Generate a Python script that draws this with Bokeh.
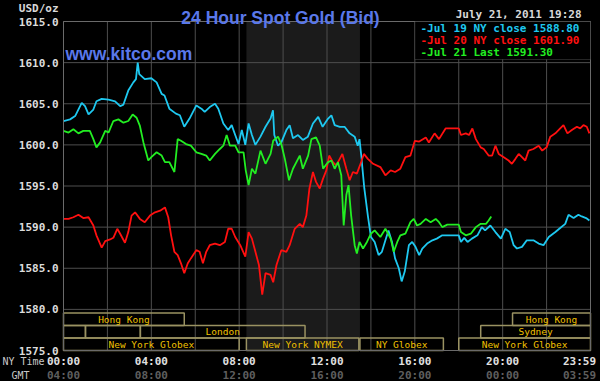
from bokeh.plotting import figure
from bokeh.models import Range1d, Label, BoxAnnotation, ColumnDataSource
from bokeh.core.properties import value
from bokeh.embed import file_html
from bokeh.resources import INLINE

# ---------------- data ----------------
jul19_h = [0.0, 0.3, 0.53, 0.83, 0.98, 1.14, 1.36, 1.5, 1.74, 2.05, 2.35, 2.58, 2.73, 2.95, 3.18, 3.3, 3.38,
           3.45, 3.7, 4.0, 4.24, 4.47, 4.6, 4.82, 5.12, 5.3, 5.5, 5.74, 6.05, 6.28, 6.43, 6.66, 6.9, 7.05,
           7.28, 7.5, 7.66, 7.82, 7.97, 8.12, 8.28, 8.43, 8.58, 8.74, 8.97, 9.2, 9.43, 9.54, 9.6, 9.77,
           9.92, 10.15, 10.3, 10.45, 10.68, 10.9, 11.13, 11.36, 11.6, 11.8, 12.05, 12.2, 12.35, 12.58,
           12.8, 13.03, 13.26, 13.4, 13.48, 13.56, 13.7, 13.86, 14.0, 14.17, 14.35, 14.5, 14.66, 14.8,
           14.96, 15.1, 15.27, 15.4, 15.54, 15.73, 15.88, 16.03, 16.2, 16.34, 16.56, 16.8, 17.0, 17.25,
           17.5, 18.0, 18.1, 18.25, 18.4, 18.6, 18.85, 19.05, 19.2, 19.44, 19.67, 19.92, 20.12, 20.32,
           20.5, 20.65, 20.88, 21.1, 21.4, 21.64, 21.86, 22.1, 22.4, 22.62, 22.85, 23.0, 23.23, 23.45,
           23.6, 23.8, 23.95]
jul19_p = [1602.9, 1603.1, 1603.5, 1605.1, 1604.7, 1603.7, 1604.3, 1605.3, 1605.6, 1605.5, 1605.3, 1604.7,
           1604.9, 1606.6, 1607.6, 1608.0, 1610.0, 1608.6, 1608.0, 1608.1, 1607.6, 1606.2, 1606.0, 1604.4,
           1603.8, 1603.6, 1602.2, 1603.2, 1604.8, 1604.4, 1604.0, 1604.6, 1605.0, 1604.4, 1602.6, 1601.8,
           1602.4, 1601.2, 1600.1, 1601.8, 1600.0, 1602.6, 1601.2, 1600.0, 1601.0, 1602.2, 1603.2, 1604.2,
           1601.2, 1599.9, 1600.3, 1601.8, 1602.4, 1600.8, 1601.2, 1600.6, 1601.0, 1602.6, 1603.4, 1602.2,
           1603.2, 1603.6, 1602.4, 1602.2, 1602.2, 1601.4, 1601.0, 1599.9, 1600.7, 1598.7, 1594.7, 1591.4,
           1588.8, 1588.2, 1586.6, 1587.0, 1588.4, 1589.6, 1588.2, 1586.2, 1585.0, 1583.4, 1584.6, 1587.8,
           1588.2, 1587.6, 1586.6, 1587.4, 1588.0, 1588.4, 1588.6, 1589.0, 1589.0, 1589.0, 1588.2, 1588.7,
           1588.2, 1588.6, 1589.0, 1590.0, 1589.6, 1590.2, 1589.4, 1588.6, 1589.8, 1589.4, 1587.8, 1587.4,
           1587.6, 1588.4, 1588.4, 1588.0, 1587.8, 1588.8, 1589.4, 1589.9, 1590.4, 1591.5, 1591.1, 1591.5,
           1591.3, 1591.1, 1590.8]

jul20_h = [0.0, 0.23, 0.45, 0.68, 0.9, 1.14, 1.36, 1.5, 1.74, 1.9, 2.12, 2.27, 2.45, 2.58, 2.8, 2.95, 3.1,
           3.26, 3.48, 3.7, 3.94, 4.17, 4.4, 4.62, 4.77, 4.9, 5.05, 5.2, 5.35, 5.5, 5.66, 5.8, 6.05, 6.2,
           6.35, 6.5, 6.66, 6.9, 7.12, 7.35, 7.5, 7.66, 7.82, 8.05, 8.28, 8.43, 8.58, 8.74, 8.9, 9.05,
           9.2, 9.43, 9.55, 9.7, 9.92, 10.15, 10.3, 10.53, 10.76, 10.9, 11.06, 11.2, 11.36, 11.5, 11.67,
           11.82, 11.97, 12.1, 12.27, 12.42, 12.58, 12.7, 12.88, 13.03, 13.18, 13.36, 13.5, 13.68, 13.86,
           14.1, 14.43, 14.66, 14.9, 15.1, 15.34, 15.57, 15.8, 16.0, 16.2, 16.5, 16.64, 16.9, 17.1, 17.4,
           18.0, 18.1, 18.32, 18.47, 18.62, 18.78, 19.0, 19.14, 19.36, 19.52, 19.67, 19.82, 20.05, 20.27,
           20.42, 20.58, 20.73, 20.88, 21.03, 21.18, 21.4, 21.64, 21.8, 22.0, 22.17, 22.4, 22.62, 22.77,
           22.95, 23.15, 23.38, 23.53, 23.68, 23.83, 23.95]
jul20_p = [1591.0, 1591.0, 1591.2, 1591.5, 1591.1, 1591.2, 1590.2, 1589.0, 1587.5, 1588.3, 1588.5, 1588.7,
           1589.8, 1589.2, 1588.1, 1589.4, 1591.4, 1591.8, 1591.0, 1590.6, 1591.4, 1591.8, 1592.0, 1592.4,
           1591.2, 1589.0, 1587.0, 1586.6, 1585.6, 1584.4, 1585.6, 1586.2, 1587.2, 1587.0, 1585.6, 1587.0,
           1587.8, 1588.0, 1587.8, 1588.2, 1589.8, 1589.8, 1588.8, 1587.8, 1586.4, 1589.4, 1588.6, 1587.0,
           1585.4, 1581.8, 1584.4, 1584.2, 1583.3, 1585.4, 1587.2, 1587.0, 1587.8, 1589.8, 1590.4, 1590.0,
           1591.4, 1594.7, 1596.7, 1595.5, 1594.7, 1595.9, 1596.9, 1598.7, 1597.9, 1597.5, 1598.3, 1598.9,
           1597.1, 1595.7, 1596.7, 1596.5, 1597.5, 1598.9, 1598.3, 1597.7, 1597.3, 1596.3, 1596.9, 1596.7,
           1597.1, 1598.5, 1598.7, 1600.5, 1600.4, 1600.9, 1600.3, 1601.4, 1600.7, 1602.0, 1602.0, 1601.2,
           1601.4, 1601.2, 1602.0, 1600.7, 1599.7, 1599.5, 1598.7, 1598.7, 1599.9, 1598.9, 1598.5, 1598.1,
           1597.7, 1598.3, 1598.9, 1598.5, 1598.1, 1599.3, 1599.5, 1599.9, 1599.3, 1599.7, 1601.0, 1601.4,
           1602.0, 1602.4, 1601.4, 1601.8, 1602.2, 1602.0, 1602.4, 1602.2, 1601.4]

jul21_h = [0.0, 0.23, 0.45, 0.68, 0.9, 1.2, 1.36, 1.5, 1.67, 1.9, 2.05, 2.27, 2.5, 2.73, 2.95, 3.15, 3.33,
           3.48, 3.64, 3.86, 4.0, 4.24, 4.47, 4.62, 4.82, 5.05, 5.2, 5.35, 5.58, 5.8, 6.05, 6.28, 6.5,
           6.66, 6.9, 7.12, 7.28, 7.43, 7.58, 7.82, 7.97, 8.2, 8.3, 8.43, 8.58, 8.74, 8.97, 9.2, 9.43,
           9.55, 9.77, 9.92, 10.08, 10.27, 10.45, 10.76, 10.9, 11.14, 11.29, 11.5, 11.67, 11.82, 12.05,
           12.2, 12.35, 12.5, 12.65, 12.76, 12.88, 12.98, 13.1, 13.26, 13.36, 13.48, 13.64, 13.82, 14.0,
           14.17, 14.43, 14.66, 14.9, 15.04, 15.2, 15.34, 15.57, 15.8, 15.95, 16.1, 16.26, 16.5, 16.72,
           16.95, 17.1, 17.25, 17.48, 18.0, 18.1, 18.32, 18.55, 18.78, 19.0, 19.24, 19.36, 19.48]
jul21_p = [1601.7, 1601.5, 1601.9, 1601.4, 1601.7, 1601.7, 1600.7, 1599.7, 1600.3, 1601.7, 1601.5, 1602.9,
           1603.1, 1602.7, 1602.9, 1603.7, 1603.3, 1602.3, 1600.3, 1598.1, 1598.5, 1599.1, 1598.7, 1597.9,
           1597.9, 1596.7, 1600.7, 1600.5, 1600.1, 1599.9, 1599.1, 1598.9, 1598.7, 1598.1, 1598.9, 1599.5,
           1599.9, 1601.2, 1599.9, 1599.9, 1599.1, 1599.1, 1596.9, 1595.1, 1597.1, 1596.5, 1599.3, 1597.7,
           1598.9, 1600.5, 1601.0, 1600.1, 1598.3, 1595.7, 1597.1, 1598.7, 1597.1, 1598.7, 1600.7, 1600.9,
           1599.9, 1597.1, 1597.9, 1598.1, 1597.1, 1597.9, 1596.3, 1590.2, 1593.9, 1595.1, 1591.4, 1587.8,
           1586.8, 1588.2, 1587.4, 1588.2, 1589.2, 1589.6, 1588.8, 1589.8, 1588.6, 1587.0, 1588.2, 1589.0,
           1589.2, 1590.6, 1591.0, 1590.2, 1590.4, 1591.0, 1590.6, 1591.0, 1590.6, 1590.0, 1590.3, 1590.3,
           1589.4, 1589.0, 1589.2, 1590.0, 1590.4, 1590.4, 1590.8, 1591.3]

legend_texts = ["-Jul 19 NY close 1588.80", "-Jul 20 NY close 1601.90", "-Jul 21 Last 1591.30"]

y_ticks = [1575, 1580, 1585, 1590, 1595, 1600, 1605, 1610, 1615]
x_ticks = [0, 4, 8, 12, 16, 20, 23.5]
ny_labels = ["00:00", "04:00", "08:00", "12:00", "16:00", "20:00", "23:59"]
gmt_labels = ["04:00", "08:00", "12:00", "16:00", "20:00", "00:00", "03:59"]
grid_x = [0, 2, 4, 6, 8, 10, 12, 14, 16, 18, 20, 22, 24]

# trading sessions (NY hours)
sess_name = ["Hong Kong", "Hong Kong", "", "", "London", "Sydney",
             "New York Globex", "New York NYMEX", "NY Globex", "New York Globex"]
sess_start = [0.0, 20.45, 0.0, 1.0, 3.5, 19.0, 0.0, 8.33, 13.5, 18.0]
sess_end = [5.5, 24.0, 1.0, 3.5, 11.0, 24.0, 8.0, 13.45, 17.3, 24.0]
sess_row = [0, 0, 1, 1, 1, 1, 2, 2, 2, 2]
nymex_open, nymex_close = 8.33, 13.5

# ---------------- layout (canvas pixels) ----------------
W, H = 600, 381
PL, PR, PT, PB = 63, 590, 21, 350          # plotting area inside the canvas
X0, X1, Y0, Y1 = 0, 24, 1575, 1615         # data extent of plotting area
XS = (PR - PL) / (X1 - X0)
YS = (PB - PT) / (Y1 - Y0)

def dx(cx):
    return X0 + (cx - PL) / XS

def dy(cy):
    return Y1 - (cy - PT) / YS

CYAN, RED, GREEN = "#1ec8f0", "#ff1010", "#22ee22"
MONO = "DejaVu Sans Mono"
GRID = "#4e4e4e"

p = figure(width=W, height=H,
           x_range=Range1d(dx(0), dx(W)), y_range=Range1d(dy(H), dy(0)),
           output_backend="svg", toolbar_location=None, title=None,
           x_axis_location=None, y_axis_location=None,
           background_fill_color="#000000", border_fill_color="#000000",
           min_border=0, outline_line_color=None)
p.grid.visible = False

# NYMEX shading (below everything)
p.add_layout(BoxAnnotation(left=nymex_open, right=nymex_close, top=Y1, bottom=Y0,
                           fill_color="#1b1b1b", fill_alpha=1.0, line_color=None, level="image"))

# grid lines from tick arrays
p.segment(x0=grid_x, x1=grid_x, y0=[Y0] * len(grid_x), y1=[Y1] * len(grid_x),
          line_color=GRID, line_width=1)
p.segment(x0=[X0] * len(y_ticks), x1=[X1] * len(y_ticks), y0=y_ticks, y1=y_ticks,
          line_color=GRID, line_width=1)

# lines
p.line(jul19_h, jul19_p, line_color=CYAN, line_width=1.8)
p.line(jul20_h, jul20_p, line_color=RED, line_width=1.8)
p.line(jul21_h, jul21_p, line_color=GREEN, line_width=1.8)

# session bars
row_h = 1.52
src = ColumnDataSource(dict(
    left=sess_start, right=sess_end,
    top=[Y0 + (3 - r) * row_h for r in sess_row],
    bottom=[Y0 + (2 - r) * row_h for r in sess_row],
    xc=[(a + b) / 2 for a, b in zip(sess_start, sess_end)],
    yc=[Y0 + (2.5 - r) * row_h for r in sess_row],
    name=sess_name))
p.quad(left="left", right="right", top="top", bottom="bottom", source=src,
       fill_alpha=0.0, line_color="#9a9262", line_width=1.5)
p.text(x="xc", y="yc", text="name", source=src, text_font=value(MONO),
       text_font_size=value("9.5px"), text_color="#f0c000",
       text_align="center", text_baseline="middle")

# plot border
p.quad(left=[X0], right=[X1], top=[Y1], bottom=[Y0], fill_alpha=0.0,
       line_color="#6a6a6a", line_width=1)

# y tick labels
p.text(x=[dx(PL - 5)] * len(y_ticks), y=y_ticks, text=[f"{v:.1f}" for v in y_ticks],
       text_font=value(MONO), text_font_style="bold", text_font_size=value("11px"),
       text_color="#dcdcdc", text_align="right", text_baseline="middle")
# x tick labels (NY time and GMT)
p.text(x=x_ticks, y=[dy(PB + 11)] * len(x_ticks), text=ny_labels,
       text_font=value(MONO), text_font_style="bold", text_font_size=value("11px"),
       text_color="#e0e0e0", text_align="center", text_baseline="middle")
p.text(x=x_ticks, y=[dy(PB + 25)] * len(x_ticks), text=gmt_labels,
       text_font=value(MONO), text_font_style="bold", text_font_size=value("11px"),
       text_color="#5e5e5e", text_align="center", text_baseline="middle")

# legend box
p.add_layout(BoxAnnotation(left=16, right=X1, top=Y1, bottom=dy(59),
                           fill_color="#000000", fill_alpha=1.0,
                           line_color="#7a7a7a", line_width=1))

def lab(x, y, text, **kw):
    p.add_layout(Label(x=x, y=H - y, x_units="screen", y_units="screen", text=text, **kw))

for i, (t, c) in enumerate(zip(legend_texts, [CYAN, RED, GREEN])):
    lab(420, 28 + 12 * i, t, text_font=MONO, text_font_style="bold",
        text_font_size="11px", text_color=c, text_align="left", text_baseline="middle")

lab(280, 17, "24 Hour Spot Gold (Bid)", text_font="Liberation Sans", text_font_style="bold",
    text_font_size="17.5px", text_color="#5a78ea", text_align="center", text_baseline="alphabetic")
lab(65, 53, "www.kitco.com", text_font="Liberation Sans", text_font_style="bold",
    text_font_size="17.5px", text_color="#5a78ea", text_align="left", text_baseline="alphabetic")
lab(581, 14, "July 21, 2011 19:28", text_font=MONO, text_font_size="11px",
    text_font_style="bold", text_color="#d8d8d8", text_align="right", text_baseline="middle")
lab(58, 8, "USD/oz", text_font=MONO, text_font_size="11px", text_font_style="bold",
    text_color="#d8d8d8", text_align="right", text_baseline="middle")
lab(23, 361, "NY Time", text_font=MONO, text_font_size="10px",
    text_color="#c8c8c8", text_align="center", text_baseline="middle")
lab(20, 375, "GMT", text_font=MONO, text_font_size="10px",
    text_color="#c8c8c8", text_align="center", text_baseline="middle")

html = file_html(p, INLINE)
html = html.replace("</head>", "<style>html,body{margin:0;padding:0;background:#000000;}</style></head>", 1)
open("out.html", "w").write(html)
